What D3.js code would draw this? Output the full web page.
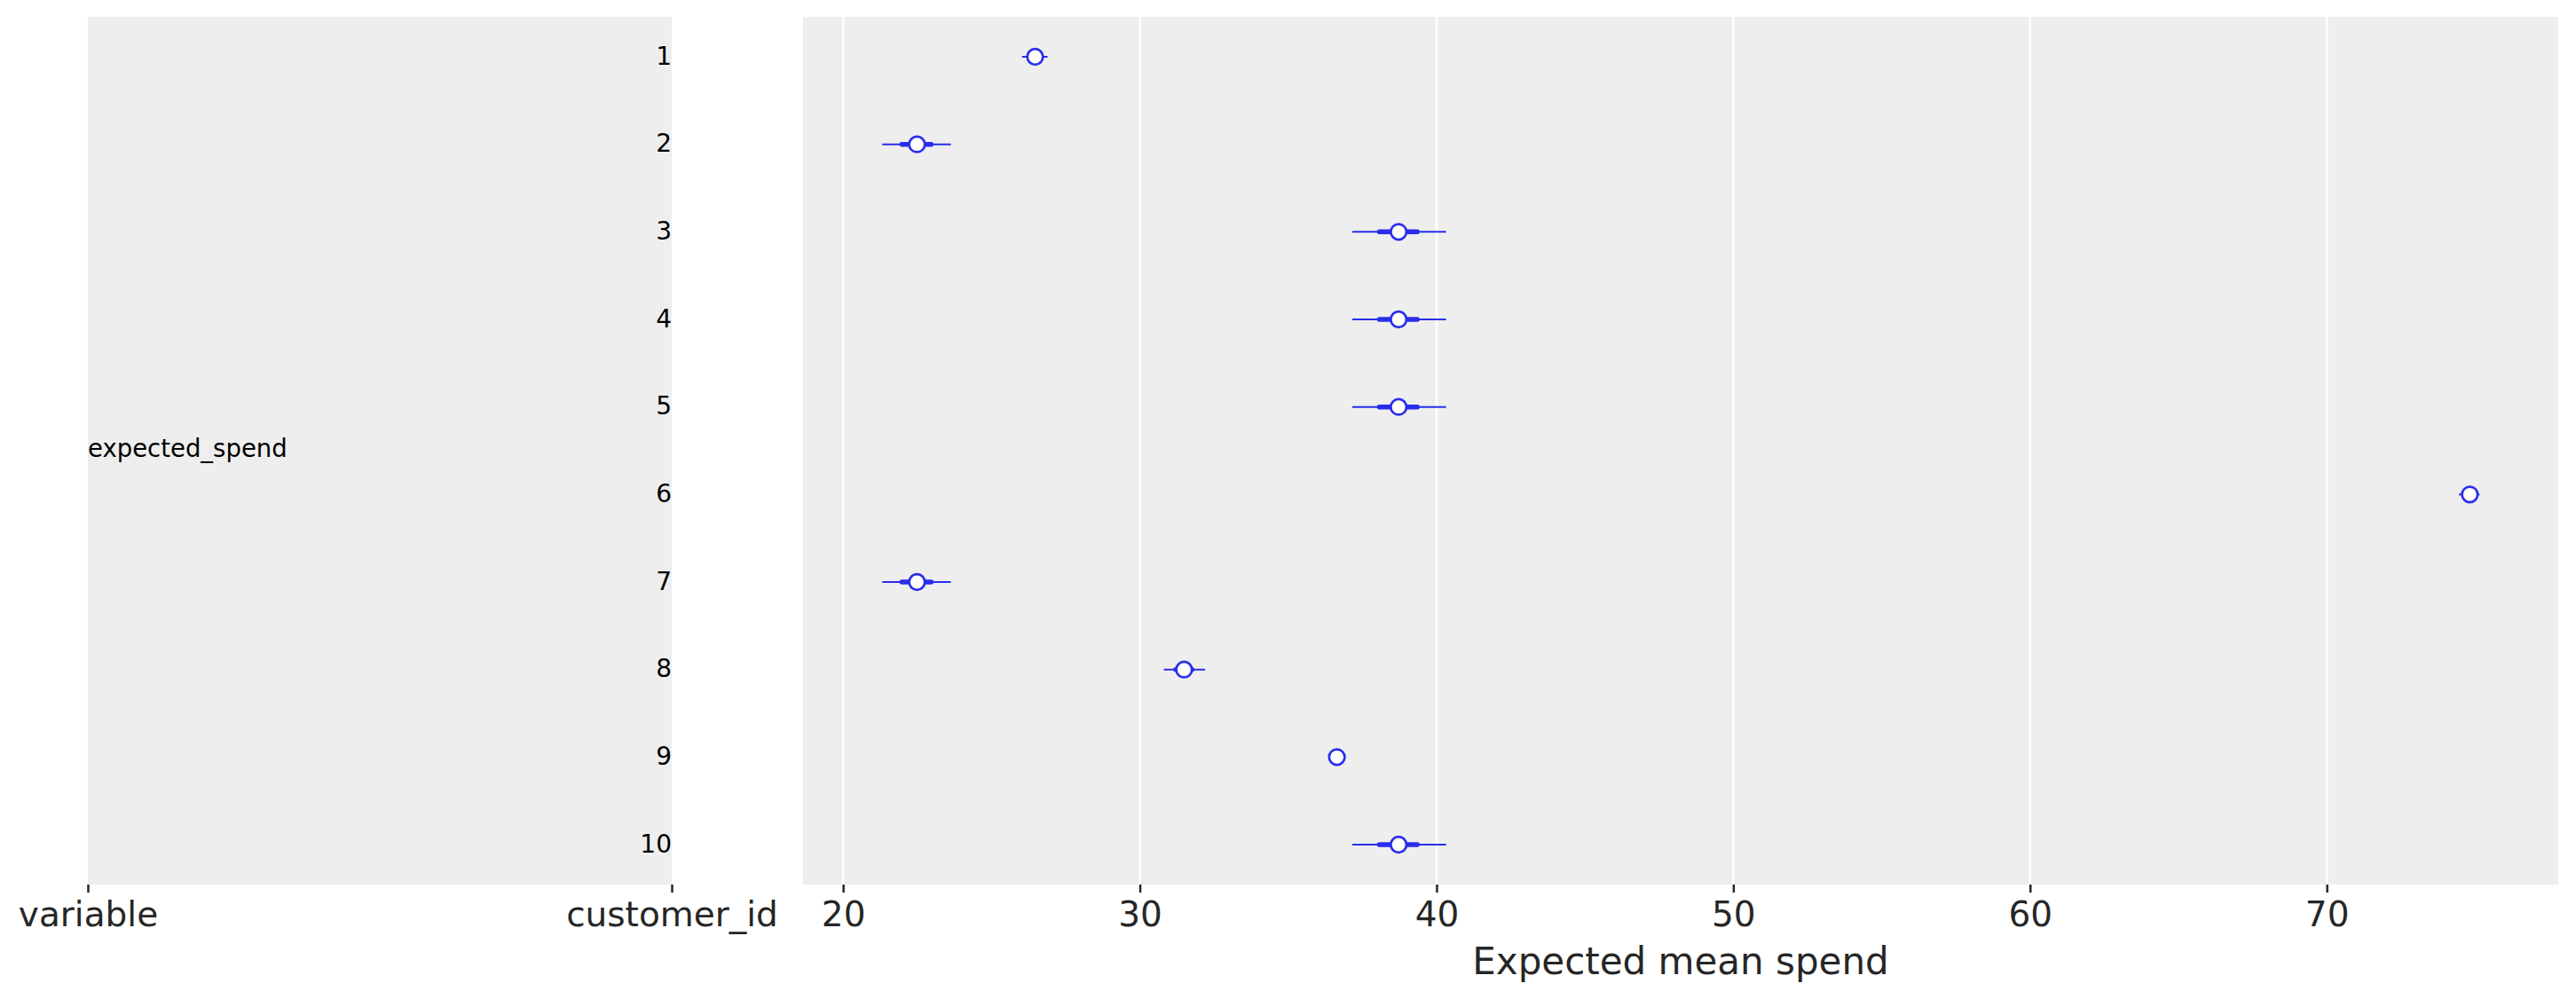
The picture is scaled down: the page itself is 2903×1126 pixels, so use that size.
<!DOCTYPE html>
<html>
<head>
<meta charset="utf-8">
<script src="https://cdn.jsdelivr.net/npm/d3@7"></script>
<style>
  html, body { margin: 0; padding: 0; background: #ffffff; }
  svg { display: block; font-family: "DejaVu Sans", sans-serif; }
</style>
</head>
<body>
<script>
// ---- data ----
const customerIds = ["1", "2", "3", "4", "5", "6", "7", "8", "9", "10"];
const variableName = "expected_spend";
const meanSpend = [26.47, 22.49, 38.72, 38.72, 38.72, 74.82, 22.49, 31.49, 36.64, 38.72];
const hdiLow    = [26.03, 21.32, 37.16, 37.16, 37.16, 74.45, 21.32, 30.81, 36.42, 37.16];
const hdiHigh   = [26.89, 23.63, 40.32, 40.32, 40.32, 75.15, 23.63, 32.20, 36.86, 40.32];
const iqrLow    = [26.30, 21.98, 38.07, 38.07, 38.07, 74.68, 21.98, 31.21, 36.55, 38.07];
const iqrHigh   = [26.64, 22.97, 39.35, 39.35, 39.35, 74.95, 22.97, 31.76, 36.73, 39.35];
const xTickValues = [20, 30, 40, 50, 60, 70];
const labelColumns = ["variable", "customer_id"];
const xAxisTitle = "Expected mean spend";

// ---- layout ----
const W = 2903, H = 1126;
const panelTop = 19, panelBottom = 997;
const leftPanel = { x0: 99, x1: 757 };
const rightPanel = { x0: 905, x1: 2883 };
const blue = "#2a2eec";
const panelBg = "#eeeeee";
const textColor = "#262626";

const rows = customerIds.map((id, i) => ({
  id, mean: meanSpend[i], lo: hdiLow[i], hi: hdiHigh[i], qlo: iqrLow[i], qhi: iqrHigh[i]
}));

const svg = d3.select("body").append("svg").attr("width", W).attr("height", H);

const y = d3.scalePoint().domain(customerIds).range([panelTop, panelBottom]).padding(0.456);
const x = d3.scaleLinear().domain([18.65, 77.8]).range([rightPanel.x0, rightPanel.x1]);
const xl = d3.scalePoint().domain(labelColumns).range([leftPanel.x0, leftPanel.x1]);

// ---- left label panel ----
const lp = svg.append("g");
lp.append("rect").attr("x", leftPanel.x0).attr("y", panelTop)
  .attr("width", leftPanel.x1 - leftPanel.x0).attr("height", panelBottom - panelTop).attr("fill", panelBg);

lp.append("text")
  .attr("x", xl("variable")).attr("y", (y(customerIds[0]) + y(customerIds[customerIds.length - 1])) / 2 - 3)
  .attr("dy", "0.35em").attr("font-size", 27.5).attr("fill", "#000")
  .text(variableName);

lp.selectAll("text.rowlab").data(rows).join("text").attr("class", "rowlab")
  .attr("x", xl("customer_id")).attr("y", d => y(d.id) - 1).attr("dy", "0.35em")
  .attr("text-anchor", "end").attr("font-size", 28).attr("fill", "#000")
  .text(d => d.id);

const leftAxis = d3.axisBottom(xl).tickSize(9).tickPadding(10);
const gla = svg.append("g").attr("transform", `translate(0,${panelBottom})`).call(leftAxis);
gla.select(".domain").remove();
gla.selectAll(".tick line").attr("stroke", textColor).attr("stroke-width", 2.5);
gla.selectAll(".tick text").attr("font-size", 39).attr("fill", textColor)
  .attr("font-family", "DejaVu Sans");

// ---- right forest panel ----
const rp = svg.append("g");
rp.append("rect").attr("x", rightPanel.x0).attr("y", panelTop)
  .attr("width", rightPanel.x1 - rightPanel.x0).attr("height", panelBottom - panelTop).attr("fill", panelBg);

rp.selectAll("line.grid").data(xTickValues).join("line").attr("class", "grid")
  .attr("x1", d => x(d)).attr("x2", d => x(d)).attr("y1", panelTop).attr("y2", panelBottom)
  .attr("stroke", "#ffffff").attr("stroke-width", 2.5);

const rightAxis = d3.axisBottom(x).tickValues(xTickValues).tickFormat(d3.format("d")).tickSize(9).tickPadding(10);
const gra = svg.append("g").attr("transform", `translate(0,${panelBottom})`).call(rightAxis);
gra.select(".domain").remove();
gra.selectAll(".tick line").attr("stroke", textColor).attr("stroke-width", 2.5);
gra.selectAll(".tick text").attr("font-size", 39).attr("fill", textColor)
  .attr("font-family", "DejaVu Sans");

// HDI thin lines
rp.selectAll("line.hdi").data(rows).join("line").attr("class", "hdi")
  .attr("x1", d => x(d.lo)).attr("x2", d => x(d.hi))
  .attr("y1", d => y(d.id)).attr("y2", d => y(d.id))
  .attr("stroke", blue).attr("stroke-width", 2);

// IQR thick lines
rp.selectAll("line.iqr").data(rows).join("line").attr("class", "iqr")
  .attr("x1", d => x(d.qlo)).attr("x2", d => x(d.qhi))
  .attr("y1", d => y(d.id)).attr("y2", d => y(d.id))
  .attr("stroke", blue).attr("stroke-width", 5.5).attr("stroke-linecap", "round");

// point markers
rp.selectAll("circle.pt").data(rows).join("circle").attr("class", "pt")
  .attr("cx", d => x(d.mean)).attr("cy", d => y(d.id)).attr("r", 8.8)
  .attr("fill", "#ffffff").attr("stroke", blue).attr("stroke-width", 2.7);

// x axis title
svg.append("text")
  .attr("x", (rightPanel.x0 + rightPanel.x1) / 2).attr("y", 1098)
  .attr("text-anchor", "middle").attr("font-size", 42).attr("fill", textColor)
  .text(xAxisTitle);
</script>
</body>
</html>
